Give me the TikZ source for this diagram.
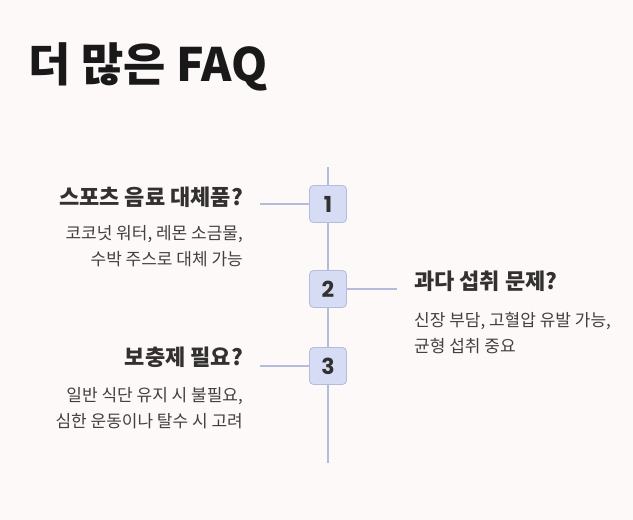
\documentclass[tikz,border=0pt]{standalone}
\usepackage{fontspec}
\setmainfont{Noto Sans CJK KR}
\newfontfamily\numfont{Poppins}
\definecolor{bg}{HTML}{FDF9F8}
\definecolor{ln}{HTML}{B3BCDB}
\definecolor{bx}{HTML}{D5DCF4}
\definecolor{tx}{HTML}{333030}
\definecolor{sub}{HTML}{444040}
\tikzset{x=1pt,y=-1pt,
 numbox/.style={draw=ln,fill=bx,rounded corners=4pt,minimum size=37pt,inner sep=0pt,line width=0.8pt,text=tx,font=\numfont\bfseries\fontsize{22}{22}\selectfont},
 conn/.style={draw=ln,line width=1.2pt},
 qhead/.style={font=\bfseries\fontsize{22}{24}\selectfont,text=tx,inner sep=0pt},
 qbody/.style={font=\fontsize{17}{26}\selectfont,text=sub,inner sep=0pt,align=#1}}
\begin{document}
\begin{tikzpicture}
\fill[bg] (0,0) rectangle (633,520);
\useasboundingbox (0,0) rectangle (633,520);
\node[anchor=west,inner sep=0pt,font=\bfseries\fontsize{46}{48}\selectfont,text=black!90] (title) at (28,67) {더 많은 FAQ};
\coordinate (top) at (328,167);
\coordinate (bot) at (328,463);
\draw[conn] (top) -- (bot);
\node[numbox] (n1) at (328,204) {1};
\node[numbox] (n2) at (328,289) {2};
\node[numbox] (n3) at (328,366) {3};
\coordinate (l1) at (260,204);
\coordinate (r2) at (397,289);
\coordinate (l3) at (260,366);
\draw[conn] (l1) -- (n1.west);
\draw[conn] (n2.east) -- (r2);
\draw[conn] (l3) -- (n3.west);
\node[qhead,anchor=east] (h1) at (243,197) {스포츠 음료 대체품?};
\node[qbody=right,anchor=north east] (b1) at (243,225) {코코넛 워터, 레몬 소금물,\\수박 주스로 대체 가능};
\node[qhead,anchor=west] (h2) at (414,281) {과다 섭취 문제?};
\node[qbody=left,anchor=north west] (b2) at (414,312) {신장 부담, 고혈압 유발 가능,\\균형 섭취 중요};
\node[qhead,anchor=east] (h3) at (243,357) {보충제 필요?};
\node[qbody=right,anchor=north east] (b3) at (243,387) {일반 식단 유지 시 불필요,\\심한 운동이나 탈수 시 고려};
\end{tikzpicture}
\end{document}
